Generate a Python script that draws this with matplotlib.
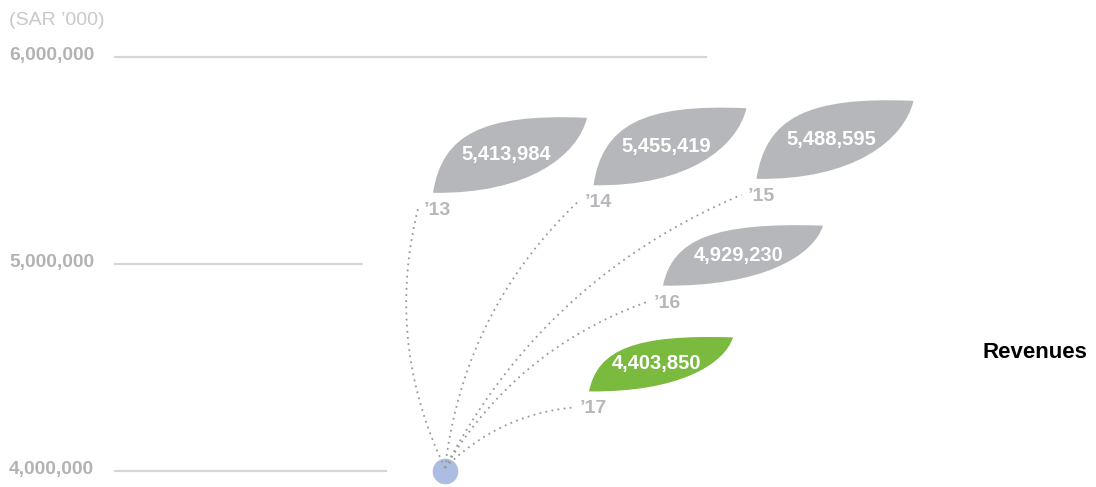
import numpy as np
import matplotlib
matplotlib.use("Agg")
import matplotlib.pyplot as plt
from matplotlib.path import Path
from matplotlib.patches import PathPatch

# ---- data ----
years = ["’13", "’14", "’15", "’16", "’17"]
revenues = [5413984, 5455419, 5488595, 4929230, 4403850]
tick_values = [4000000, 5000000, 6000000]
tick_labels = ["4,000,000", "5,000,000", "6,000,000"]
unit_label = "(SAR ’000)"
title = "Revenues"

# ---- layout (pixels) ----
W, H = 1096, 487
leaf_x = [510, 670, 835, 743, 661]       # horizontal centre of each leaf
leaf_w = [154, 153, 157, 160, 144]       # base-to-tip span
leaf_h = [75, 77, 78, 60, 54]
grid_end = [387, 363, 707]               # right end of each reference line
leaf_lift = 23                           # leaves float a little above their value
origin_x = 445                           # where the stems meet

GRAY_LEAF = "#b5b7ba"
GREEN_LEAF = "#7aba3e"
GRID = "#d6d6d6"
TICK_TXT = "#b3b3b3"
UNIT_TXT = "#c8c8c8"
STEM = "#999999"
SEED = "#adbde2"

# vertical scale: 4,000,000 at y=471px, 6,000,000 at y=57px
PX_LO, PX_HI = 471, 57
per_px = (tick_values[-1] - tick_values[0]) / (PX_LO - PX_HI)


def py_to_val(py):
    return tick_values[0] + (PX_LO - py) * per_px


def val_to_py(v):
    return PX_LO - (v - tick_values[0]) / per_px


plt.rcParams["font.family"] = ["Liberation Sans", "DejaVu Sans"]

fig = plt.figure(figsize=(W / 100, H / 100), dpi=100)
ax = fig.add_axes([0, 0, 1, 1])
ax.set_xlim(0, W)
ax.set_ylim(py_to_val(H), py_to_val(0))
ax.axis("off")

# reference lines and their labels
for v, lab, xe in zip(tick_values, tick_labels, grid_end):
    ax.plot([114, xe], [v, v], color=GRID, lw=1.6, solid_capstyle="butt", zorder=1)
    ax.text(9, py_to_val(val_to_py(v) + 3), lab, color=TICK_TXT, fontsize=13.8,
            fontweight="bold", ha="left", va="baseline")

ax.text(9, py_to_val(25), unit_label, color=UNIT_TXT, fontsize=14,
        ha="left", va="baseline")

# seed at the origin of the stems
ax.plot([origin_x], [tick_values[0]], marker="o", ms=18.5, color=SEED,
        mec="none", zorder=2)


def bezier(p0, c, p2, n=120):
    t = np.linspace(0, 1, n)[:, None]
    return (1 - t) ** 2 * p0 + 2 * (1 - t) * t * c + t ** 2 * p2


# leaf outline in unit box coordinates (base at 0,0, tip at 1,1, y upward)
LEAF_UNIT = [(0, 0), (0.06, 0.78), (0.32, 1.06), (1, 1),
             (0.94, 0.5), (0.62, -0.02), (0, 0), (0, 0)]
LEAF_CODES = [Path.MOVETO, Path.CURVE4, Path.CURVE4, Path.CURVE4,
              Path.CURVE4, Path.CURVE4, Path.CURVE4, Path.CLOSEPOLY]

for i, (yr, rev) in enumerate(zip(years, revenues)):
    cx = leaf_x[i]
    cy = val_to_py(rev) - leaf_lift
    w, h = leaf_w[i], leaf_h[i]
    bx, by = cx - w / 2, cy + h / 2      # base (lower left)
    verts = [(bx + u * w, py_to_val(by - v * h)) for u, v in LEAF_UNIT]
    color = GREEN_LEAF if i == len(years) - 1 else GRAY_LEAF
    ax.add_patch(PathPatch(Path(verts, LEAF_CODES), facecolor=color,
                           edgecolor="none", zorder=3))

    # value written on the leaf
    ax.text(cx - 4, py_to_val(cy + 5), f"{rev:,}", color="white", fontsize=14.5,
            fontweight="bold", ha="center", va="baseline", zorder=4)

    # year label below the leaf base
    lx, lb = bx - 9, by + 22
    ax.text(lx, py_to_val(lb), yr, color=GRAY_LEAF, fontsize=14,
            fontweight="bold", ha="left", va="baseline", zorder=4)

    # dotted stem from the seed to the year label
    p0 = np.array([origin_x, PX_LO - 3.0])
    p2 = np.array([lx - 6, lb - 6.0])
    d = p2 - p0
    L = np.hypot(*d)
    perp = np.array([d[1], -d[0]]) / L
    c = (p0 + p2) / 2 + 0.18 * L * perp
    stem = bezier(p0, c, p2)
    ax.plot(stem[:, 0], py_to_val(stem[:, 1]), color=STEM, lw=1.3,
            linestyle=(0, (1, 2.4)), zorder=2.5)

ax.text(1035, py_to_val(358), title, color="black", fontsize=16,
        fontweight="bold", ha="center", va="baseline")

fig.savefig("out.png", dpi=100)
